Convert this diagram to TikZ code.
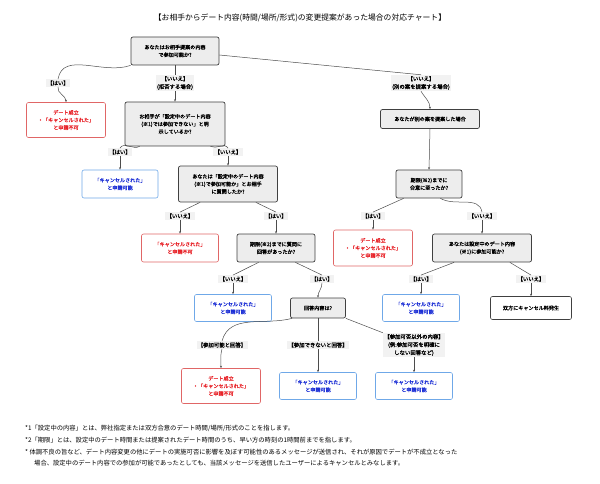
\documentclass[tikz,border=0pt]{standalone}
\usepackage{fontspec}
\setmainfont{Noto Sans CJK JP}
\newfontfamily\jpb{Noto Sans CJK JP}[FakeBold=1.5]
\usetikzlibrary{arrows.meta}
\definecolor{myred}{HTML}{E8242A}
\definecolor{myredb}{HTML}{E06666}
\definecolor{myblue}{HTML}{1C2FD6}
\definecolor{mybluel}{HTML}{6FA8E8}
\tikzset{
 q/.style={draw=black!75,fill=black!7,rounded corners=2pt,line width=0.7pt,align=center,font=\jpb\fontsize{5.1}{7.6}\selectfont,inner sep=0pt},
 redb/.style={draw=myredb,fill=white,rounded corners=2pt,line width=0.6pt,align=center,text=myred,font=\jpb\fontsize{5.1}{7.6}\selectfont,inner sep=0pt},
 blueb/.style={draw=mybluel,fill=white,rounded corners=2pt,line width=0.6pt,align=center,text=myblue,font=\jpb\fontsize{5.1}{7.6}\selectfont,inner sep=0pt},
 lbl/.style={fill=black!5,align=center,font=\jpb\fontsize{5.4}{8}\selectfont,inner sep=1.2pt},
 ln/.style={draw=black!70,line width=0.5pt},
 ar/.style={ln,-{Stealth[length=2.5pt,width=2pt]}},
}
\begin{document}
\begin{tikzpicture}[x=1pt,y=-1pt]
\useasboundingbox (0,0) rectangle (600,484);
\node[font=\fontsize{7.8}{9}\selectfont] (title) at (300,18) {【お相手からデート内容(時間/場所/形式)の変更提案があった場合の対応チャート】};

\node[q,minimum width=88,minimum height=28] (q1) at (175,51) {あなたはお相手提案の内容\\で参加可能か?};
\node[redb,minimum width=79,minimum height=35] (r1) at (66,120) {デート成立\\・「キャンセルされた」\\と申請不可};
\node[q,minimum width=100,minimum height=44] (q2) at (175,124) {お相手が「設定中のデート内容\\(※1)では参加できない」と明\\示しているか?};
\node[q,minimum width=99,minimum height=19] (q3) at (430,119) {あなたが別の案を提案した場合};
\node[lbl] (l1) at (58,83) {【はい】};
\node[lbl] (l2) at (175,83) {【いいえ】\\(拒否する場合)};
\node[lbl] (l3) at (421,83) {【いいえ】\\(別の案を提案する場合)};

\node[blueb,minimum width=76,minimum height=28] (b1) at (120,184) {「キャンセルされた」\\と申請可能};
\node[q,minimum width=99,minimum height=36] (q4) at (228,184) {あなたは「設定中のデート内容\\(※1)で参加可能か」とお相手\\に質問したか?};
\node[lbl] (l4) at (120,152) {【はい】};
\node[lbl] (l5) at (228,152) {【いいえ】};

\node[redb,minimum width=77,minimum height=28] (r2) at (180,248) {「キャンセルされた」\\と申請不可};
\node[q,minimum width=78,minimum height=28] (q5) at (276,248) {期限(※2)までに質問に\\回答があったか?};
\node[lbl] (l6) at (180,216) {【いいえ】};
\node[lbl] (l7) at (276,216) {【はい】};

\node[q,minimum width=66,minimum height=28] (q6) at (429,184) {期限(※2)までに\\合意に至ったか?};
\node[redb,minimum width=79,minimum height=36] (r3) at (373,248) {デート成立\\・「キャンセルされた」\\と申請不可};
\node[q,minimum width=99,minimum height=28] (q7) at (482,248) {あなたは設定中のデート内容\\(※1)に参加可能か?};
\node[lbl] (l8) at (373,216) {【はい】};
\node[lbl] (l9) at (482,216) {【いいえ】};

\node[blueb,minimum width=77,minimum height=27] (b2) at (233,308) {「キャンセルされた」\\と申請可能};
\node[q,minimum width=55,minimum height=20] (q8) at (318,308) {回答内容は?};
\node[blueb,minimum width=77,minimum height=27] (b3) at (421,308) {「キャンセルされた」\\と申請可能};
\node[draw=black!75,fill=white,rounded corners=2pt,line width=0.6pt,font=\jpb\fontsize{5.1}{7.6}\selectfont,minimum width=81,minimum height=23,inner sep=0pt] (r4) at (531,308) {双方にキャンセル料発生};
\node[lbl] (l10) at (233,279) {【いいえ】};
\node[lbl] (l11) at (322,279) {【はい】};
\node[lbl] (l12) at (421,279) {【はい】};
\node[lbl] (l13) at (531,279) {【いいえ】};

\node[redb,minimum width=79,minimum height=35] (r5) at (221,386) {デート成立\\・「キャンセルされた」\\と申請不可};
\node[blueb,minimum width=77,minimum height=27] (b4) at (318,386) {「キャンセルされた」\\と申請可能};
\node[blueb,minimum width=77,minimum height=27] (b5) at (414,386) {「キャンセルされた」\\と申請可能};
\node[lbl] (l14) at (222,345) {【参加可能と回答】};
\node[lbl] (l15) at (318,345) {【参加できないと回答】};
\node[lbl] (l16) at (414,345) {【参加可否以外の内容】\\(例:参加可否を明確に\\しない回答など)};

% edges
\draw[ln] (q1.south west) to[out=-160,in=80] (l1.north);
\draw[ar] (l1.south) to[out=-100,in=90] (r1.north);
\draw[ln] (q1.south) -- (l2.north);
\draw[ar] (l2.south) -- (q2.north);
\draw[ln] (q1.east) ++(0,4) -- (l3.north);
\draw[ar] (l3.south) to[out=-60,in=90] (q3.north);
\draw[ln] (q2.south west) ++(15,0) to[out=-150,in=60] (l4.north);
\draw[ar] (l4.south) -- (b1.north);
\draw[ln] (q2.south east) ++(-15,0) to[out=-30,in=120] (l5.north);
\draw[ar] (l5.south) -- (q4.north);
\draw[ln] (q4.south west) ++(22,0) -- (l6.north);
\draw[ar] (l6.south) -- (r2.north);
\draw[ln] (q4.south east) ++(-22,0) -- (l7.north);
\draw[ar] (l7.south) -- (q5.north);
\draw[ar] (q3.south) -- (q6.north);
\draw[ln] (q6.south west) ++(8,0) -- (l8.north);
\draw[ar] (l8.south) -- (r3.north);
\draw[ln] (q6.south east) ++(-22,0) to[out=-30,in=100] (l9.north);
\draw[ar] (l9.south) -- (q7.north);
\draw[ln] (q5.south west) ++(22,0) -- (l10.north);
\draw[ar] (l10.south) -- (b2.north);
\draw[ln] (q5.south east) ++(-20,0) -- (l11.north);
\draw[ar] (l11.south) to[out=-90,in=90] (q8.north);
\draw[ln] (q7.south west) ++(22,0) -- (l12.north);
\draw[ar] (l12.south) -- (b3.north);
\draw[ln] (q7.south east) ++(-22,0) -- (l13.north);
\draw[ar] (l13.south) -- (r4.north);
\draw[ln] (q8.south west) ++(2,0) to[out=-165,in=75] (l14.north);
\draw[ar] (l14.south) to[out=-105,in=90] (r5.north);
\draw[ln] (q8.south) -- (l15.north);
\draw[ar] (l15.south) -- (b4.north);
\draw[ln] (q8.south east) -- (l16.north west);
\draw[ar] (l16.south) -- (b5.north);

% footnotes
\begin{scope}[every node/.style={anchor=west,font=\fontsize{6.3}{8}\selectfont,inner sep=0pt}]
\node (f1) at (25,428) {*1「設定中の内容」とは、弊社指定または双方合意のデート時間/場所/形式のことを指します。};
\node (f2) at (25,440) {*2「期限」とは、設定中のデート時間または提案されたデート時間のうち、早い方の時刻の1時間前までを指します。};
\node (f3) at (25,452) {* 体調不良の旨など、デート内容変更の他にデートの実施可否に影響を及ぼす可能性のあるメッセージが送信され、それが原因でデートが不成立となった};
\node (f4) at (34,463) {場合、設定中のデート内容での参加が可能であったとしても、当該メッセージを送信したユーザーによるキャンセルとみなします。};
\end{scope}
\end{tikzpicture}
\end{document}
